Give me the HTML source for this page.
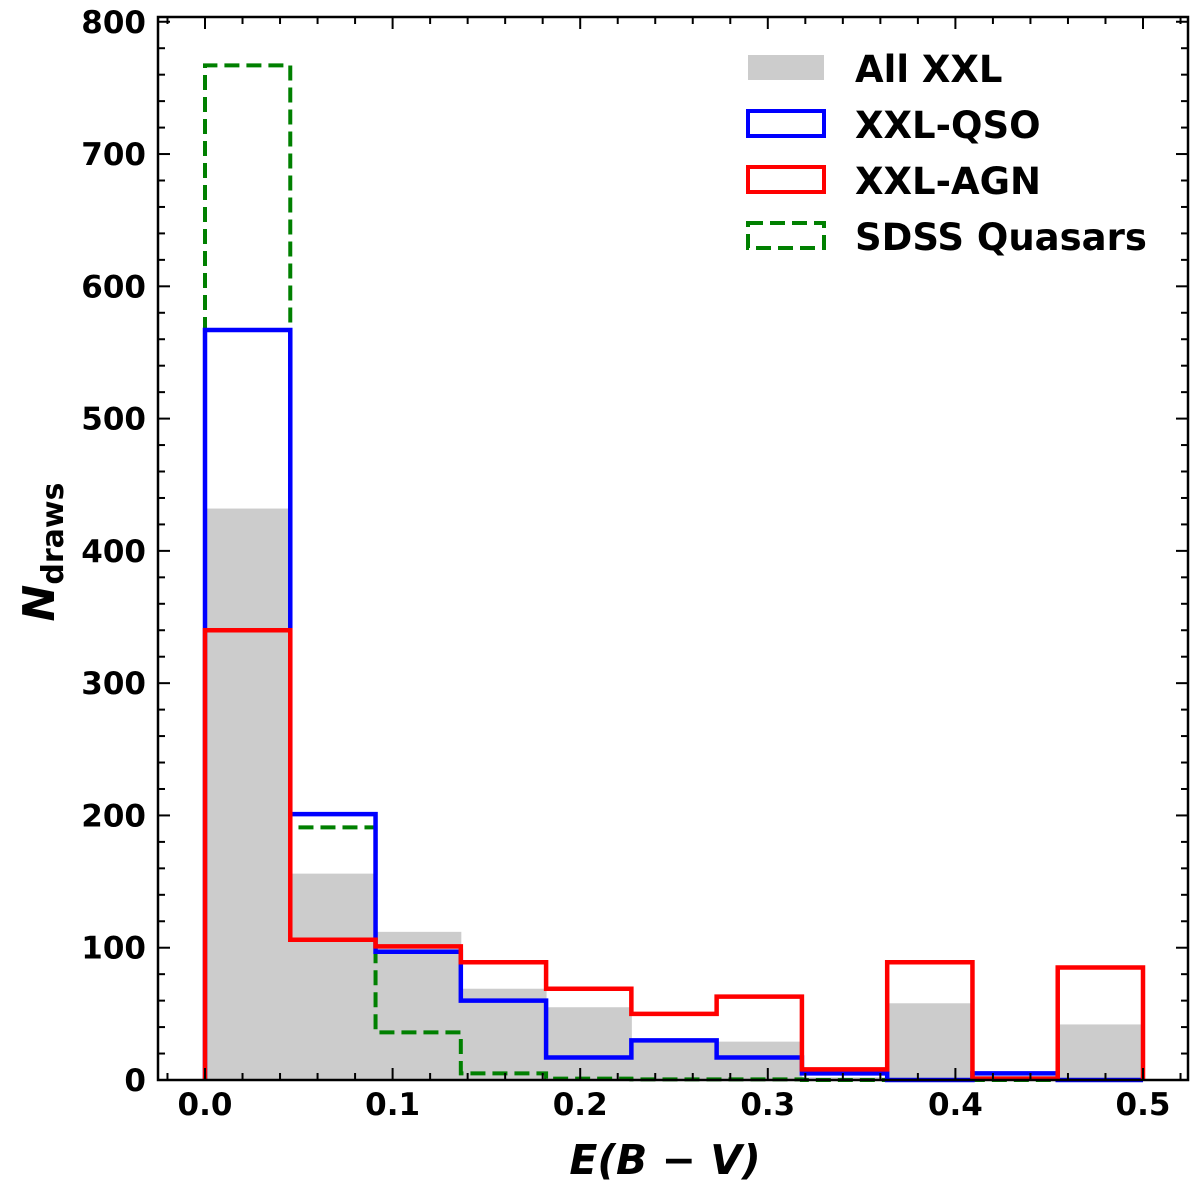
<!DOCTYPE html>
<html><head><meta charset="utf-8"><style>
body{margin:0;background:#fff;}
svg text{font-family:"DejaVu Sans","Liberation Sans",sans-serif;font-weight:bold;}
</style></head><body>
<svg id="chart" width="1200" height="1189" xmlns="http://www.w3.org/2000/svg">
<g id="plot"></g>
</svg>
<script>
const binEdgesMin = 0, binEdgesMax = 0.5, nBins = 11;
const allXXL = [432, 156, 112, 69, 55, 29, 29, 2, 58, 3, 42];
const xxlQSO = [567, 201, 97, 60, 17, 30, 17, 5, 0, 5, 0];
const xxlAGN = [340, 106, 101, 89, 69, 50, 63, 8, 89, 1, 85];
const sdssQ = [767, 191, 36, 5, 1, 0.5, 0.5, 0, 0, 0, 0];
const xTicks = [0.0, 0.1, 0.2, 0.3, 0.4, 0.5];
const xTickLabels = ["0.0","0.1","0.2","0.3","0.4","0.5"];
const yTicks = [0,100,200,300,400,500,600,700,800];

const L=158,R=1188,T=17,B=1080;
const X=v=>205+(v-0)*(1143-205)/0.5;
const Y=v=>1080-v*1.3228;
const NS="http://www.w3.org/2000/svg";
const g=document.getElementById('plot');
function mk(tag,attrs,parent){const e=document.createElementNS(NS,tag);for(const k in attrs)e.setAttribute(k,attrs[k]);(parent||g).appendChild(e);return e;}
const w=(binEdgesMax-binEdgesMin)/nBins;
const edge=i=>X(binEdgesMin+i*w);

allXXL.forEach((v,i)=>{
  const r=mk('rect',{x:edge(i)-0.5,y:Y(v),width:edge(i+1)-edge(i)+1,height:Y(0)-Y(v),fill:'#cccccc'});
  
  
});
function stepPath(vals){
  let d='M'+edge(0)+','+Y(0);
  vals.forEach((v,i)=>{d+=' L'+edge(i)+','+Y(v)+' L'+edge(i+1)+','+Y(v);});
  d+=' L'+edge(vals.length)+','+Y(0);
  return d;
}
const sd=mk('path',{d:stepPath(sdssQ),fill:'none',stroke:'#008000','stroke-width':4,'stroke-dasharray':'15,7'});


const qs=mk('path',{d:stepPath(xxlQSO),fill:'none',stroke:'#0000ff','stroke-width':4.5});


const ag=mk('path',{d:stepPath(xxlAGN),fill:'none',stroke:'#ff0000','stroke-width':4.5});



const fr=mk('rect',{x:L,y:T,width:R-L,height:B-T,fill:'none',stroke:'#000','stroke-width':2.5});



for(let k=0;k<=30;k++){
  const v=-0.02+k*0.02; const x=X(v); if(x<L||x>R)continue;
  const major=Math.abs(Math.round(v*10)-v*10)<1e-6;
  const len=major?12:7;
  mk('line',{x1:x,x2:x,y1:B,y2:B-len,stroke:'#000','stroke-width':2});
  mk('line',{x1:x,x2:x,y1:T,y2:T+len,stroke:'#000','stroke-width':2});
}
xTicks.forEach((v,i)=>{
  const t=mk('text',{x:X(v),y:1115,'font-size':31,'text-anchor':'middle'});
  t.textContent=xTickLabels[i];
  
  
});
for(let v=0;v<=800;v+=20){
  const y=Y(v); const major=v%100===0; const len=major?12:7;
  mk('line',{x1:L,x2:L+len,y1:y,y2:y,stroke:'#000','stroke-width':2});
  mk('line',{x1:R,x2:R-len,y1:y,y2:y,stroke:'#000','stroke-width':2});
}
yTicks.forEach(v=>{
  const t=mk('text',{x:146,y:Y(v)+11,'font-size':31,'text-anchor':'end'});
  t.textContent=String(v);
  
  
});
</script>
<svg width="1200" height="1189" style="position:absolute;left:0;top:0" xmlns="http://www.w3.org/2000/svg">
<text x="665" y="1174" font-size="41" text-anchor="middle" font-style="italic" font-family="DejaVu Sans,sans-serif" font-weight="bold">E(B − V)</text>
<text transform="translate(54,552) rotate(-90)" font-size="44" text-anchor="middle" font-family="DejaVu Sans,sans-serif" font-weight="bold"><tspan font-style="italic">N</tspan><tspan font-size="30" dy="9">draws</tspan></text>
<g>
<rect x="748" y="55" width="76" height="25" fill="#cccccc"/>
<text x="855" y="82" font-size="37" font-family="DejaVu Sans,sans-serif" font-weight="bold">All XXL</text>
<rect x="748" y="111" width="76" height="25" fill="none" stroke="#0000ff" stroke-width="4"/>
<text x="855" y="138" font-size="37" font-family="DejaVu Sans,sans-serif" font-weight="bold">XXL-QSO</text>
<rect x="748" y="167" width="76" height="25" fill="none" stroke="#ff0000" stroke-width="4"/>
<text x="855" y="194" font-size="37" font-family="DejaVu Sans,sans-serif" font-weight="bold">XXL-AGN</text>
<rect x="748" y="223" width="76" height="25" fill="none" stroke="#008000" stroke-width="4" stroke-dasharray="15,7"/>
<text x="855" y="250" font-size="37" font-family="DejaVu Sans,sans-serif" font-weight="bold">SDSS Quasars</text>
</g>
</svg>
</body></html>
